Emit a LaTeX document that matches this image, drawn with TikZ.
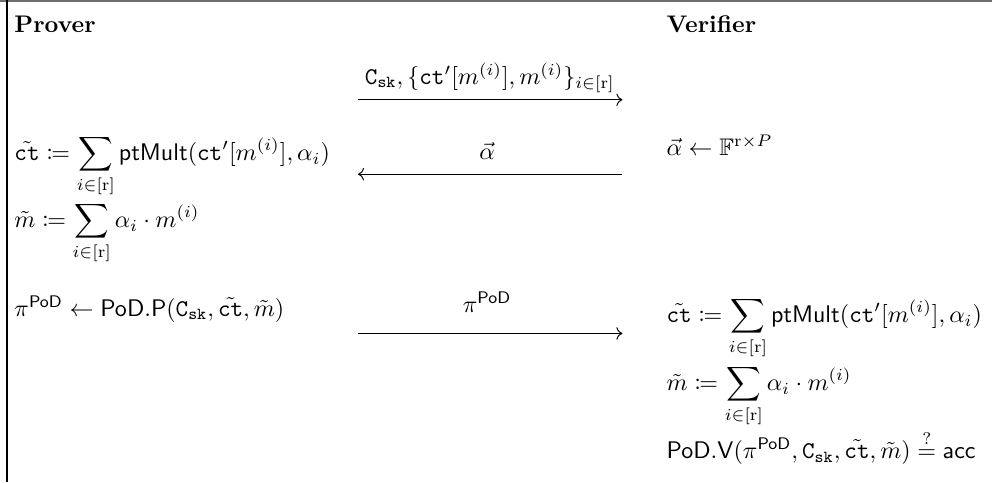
\documentclass[tikz,border=0pt]{standalone}
\usepackage{amsmath,amssymb,mathtools}
\usepackage{tikz}
\usetikzlibrary{arrows.meta}
\definecolor{cframe}{RGB}{110,110,110}
\newcommand{\ctx}{\mathtt{ct}}
\newcommand{\ctt}{\tilde{\mathtt{ct}}}
\newcommand{\Csk}{\mathtt{C}_{\mathtt{sk}}}
\newcommand{\PoD}{\mathsf{PoD}}
\newcommand{\ptMult}{\mathsf{ptMult}}
\newcommand{\acc}{\mathsf{acc}}
\newcommand{\rr}{[\mathrm{r}]}

\begin{document}
\begin{tikzpicture}[
  >={To},
  party/.style={font=\bfseries,anchor=base west,inner sep=0pt},
  stmt/.style={anchor=base west,inner sep=0pt},
  lbl/.style={anchor=base,inner sep=0pt},
  msg/.style={->,line width=0.4pt},
]
\useasboundingbox (0,0) rectangle (14.52,-7.06);

% ===== frame =====
\draw[cframe,line width=0.8pt] (0,-0.01)--(14.52,-0.01);
\draw[black,line width=0.6pt] (0.10,0)--(0.10,-7.06);

% ===== parties =====
\node[party] (prover) at (0.205,-0.47) {Prover};
\node[party] (verifier) at (9.75,-0.47) {Verifier};

% ===== message 1 =====
\coordinate (m1s) at (5.24,-1.46);
\coordinate (m1e) at (9.11,-1.46);
\node[lbl] (m1lbl) at (7.17,-1.23)
  {$\Csk, \{\ctx'[m^{(i)}], m^{(i)}\}_{i\in\rr}$};
\draw[msg] (m1s) -- (m1e);

% ===== challenge =====
\node[stmt] (chal) at (9.75,-2.27) {$\vec{\alpha} \gets \mathbb{F}^{\mathrm{r}\times P}$};
\coordinate (m2s) at (9.11,-2.55);
\coordinate (m2e) at (5.24,-2.55);
\node[lbl] (m2lbl) at (7.13,-2.34) {$\vec{\alpha}$};
\draw[msg] (m2s) -- (m2e);

% ===== prover computes =====
\node[stmt] (pct) at (0.205,-2.35)
  {$\displaystyle \ctt \coloneqq \sum_{i\in\rr} \ptMult(\ctx'[m^{(i)}],\alpha_i)$};
\node[stmt] (pm) at (0.205,-3.33)
  {$\displaystyle \tilde{m} \coloneqq \sum_{i\in\rr} \alpha_i\cdot m^{(i)}$};
\node[stmt] (pprf) at (0.205,-4.63)
  {$\pi^{\PoD} \gets \PoD.\mathsf{P}(\Csk,\ctt,\tilde{m})$};

% ===== message 3 =====
\coordinate (m3s) at (5.24,-4.88);
\coordinate (m3e) at (9.11,-4.88);
\node[lbl] (m3lbl) at (7.13,-4.57) {$\pi^{\PoD}$};
\draw[msg] (m3s) -- (m3e);

% ===== verifier checks =====
\node[stmt] (vct) at (9.75,-4.72)
  {$\displaystyle \ctt \coloneqq \sum_{i\in\rr} \ptMult(\ctx'[m^{(i)}],\alpha_i)$};
\node[stmt] (vm) at (9.75,-5.72)
  {$\displaystyle \tilde{m} \coloneqq \sum_{i\in\rr} \alpha_i\cdot m^{(i)}$};
\node[stmt] (vchk) at (9.75,-6.71)
  {$\PoD.\mathsf{V}(\pi^{\PoD},\Csk,\ctt,\tilde{m}) \stackrel{?}{=} \acc$};

\end{tikzpicture}
\end{document}
